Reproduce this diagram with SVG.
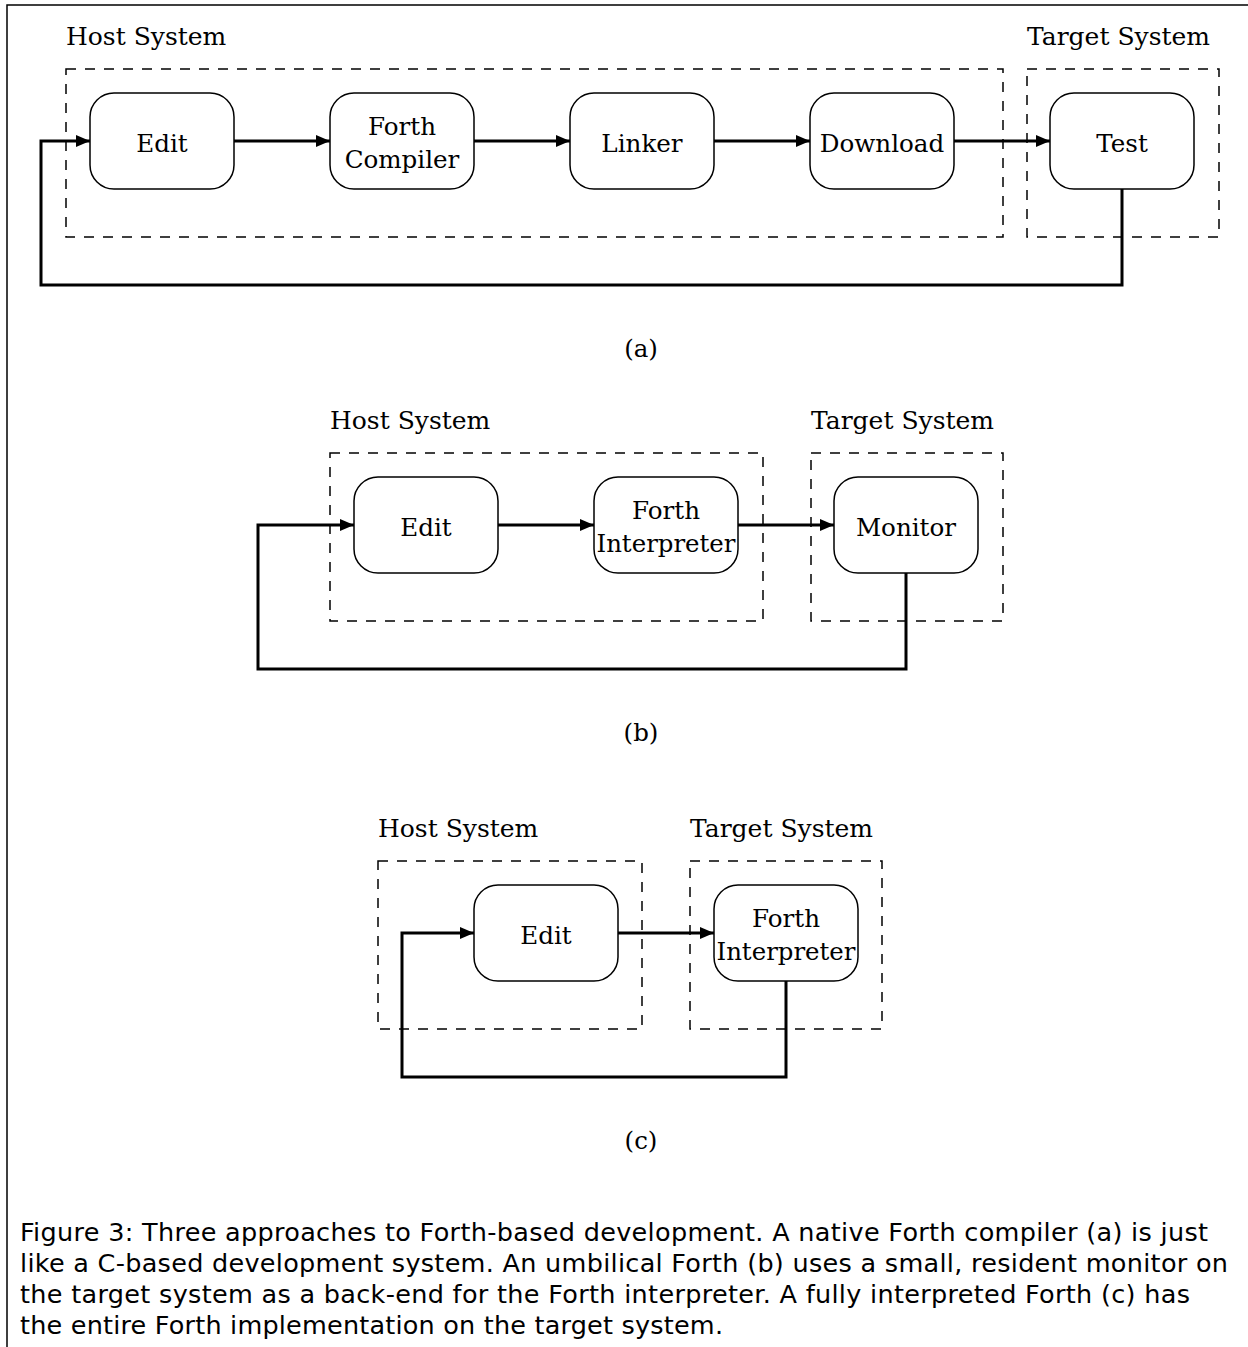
<svg xmlns="http://www.w3.org/2000/svg" width="1248" height="1347" viewBox="0 0 1248 1347">
<style>
.bg{fill:#ffffff}
.frame{fill:none;stroke:#000;stroke-width:1.5}
.box{fill:none;stroke:#000;stroke-width:1.5;stroke-dasharray:10 9}
.node rect{fill:#fff;stroke:#000;stroke-width:1.5}
.lbl{font-family:"DejaVu Serif","Liberation Serif",serif;font-size:25px;fill:#000}
.node text{font-family:"DejaVu Serif","Liberation Serif",serif;font-size:24.6px;fill:#000;text-anchor:middle}
.sub{font-family:"DejaVu Serif","Liberation Serif",serif;font-size:24.5px;fill:#000;text-anchor:middle}
.edge{fill:none;stroke:#000;stroke-width:3}
.cap{font-family:"DejaVu Sans","Noto Sans",sans-serif;font-size:25.5px;fill:#000}
</style>
<defs>
<marker id="ah" viewBox="0 0 14 12" refX="14" refY="6" markerWidth="14" markerHeight="12" markerUnits="userSpaceOnUse" orient="auto">
<path d="M0,0 L14,6 L0,12 Z" fill="#000"/>
</marker>
</defs>
<rect class="bg" x="0" y="0" width="1248" height="1347"/>
<path class="frame" d="M7,1347 V5 H1248"/>

<!-- Panel a -->
<g id="panel-a-frames">
<text class="lbl" x="66" y="45">Host System</text>
<text class="lbl" x="1027" y="45">Target System</text>
<rect class="box" x="66" y="69" width="937" height="168"/>
<rect class="box" x="1027" y="69" width="192" height="168"/>
</g>
<g id="connectors-a">
<path class="edge" d="M234,141 H330" marker-end="url(#ah)"/>
<path class="edge" d="M474,141 H570" marker-end="url(#ah)"/>
<path class="edge" d="M714,141 H810" marker-end="url(#ah)"/>
<path class="edge" d="M954,141 H1050" marker-end="url(#ah)"/>
<path class="edge" d="M1122,189 V285 H41 V141 H90" marker-end="url(#ah)"/>
</g>
<g id="a-edit" class="node"><rect x="90" y="93" width="144" height="96" rx="24"/><text x="162" y="152">Edit</text></g>
<g id="a-compiler" class="node"><rect x="330" y="93" width="144" height="96" rx="24"/><text x="402" y="135">Forth</text><text x="402" y="168">Compiler</text></g>
<g id="a-linker" class="node"><rect x="570" y="93" width="144" height="96" rx="24"/><text x="642" y="152">Linker</text></g>
<g id="a-download" class="node"><rect x="810" y="93" width="144" height="96" rx="24"/><text x="882" y="152">Download</text></g>
<g id="a-test" class="node"><rect x="1050" y="93" width="144" height="96" rx="24"/><text x="1122" y="152">Test</text></g>
<text class="sub" x="641" y="357">(a)</text>

<!-- Panel b -->
<g id="panel-b-frames">
<text class="lbl" x="330" y="429">Host System</text>
<text class="lbl" x="811" y="429">Target System</text>
<rect class="box" x="330" y="453" width="433" height="168"/>
<rect class="box" x="811" y="453" width="192" height="168"/>
</g>
<g id="connectors-b">
<path class="edge" d="M498,525 H594" marker-end="url(#ah)"/>
<path class="edge" d="M738,525 H834" marker-end="url(#ah)"/>
<path class="edge" d="M906,573 V669 H258 V525 H354" marker-end="url(#ah)"/>
</g>
<g id="b-edit" class="node"><rect x="354" y="477" width="144" height="96" rx="24"/><text x="426" y="536">Edit</text></g>
<g id="b-interp" class="node"><rect x="594" y="477" width="144" height="96" rx="24"/><text x="666" y="519">Forth</text><text x="666" y="552" textLength="139" lengthAdjust="spacingAndGlyphs">Interpreter</text></g>
<g id="b-monitor" class="node"><rect x="834" y="477" width="144" height="96" rx="24"/><text x="906" y="536">Monitor</text></g>
<text class="sub" x="641" y="741">(b)</text>

<!-- Panel c -->
<g id="panel-c-frames">
<text class="lbl" x="378" y="837">Host System</text>
<text class="lbl" x="690" y="837">Target System</text>
<rect class="box" x="378" y="861" width="264" height="168"/>
<rect class="box" x="690" y="861" width="192" height="168"/>
</g>
<g id="connectors-c">
<path class="edge" d="M618,933 H714" marker-end="url(#ah)"/>
<path class="edge" d="M786,981 V1077 H402 V933 H474" marker-end="url(#ah)"/>
</g>
<g id="c-edit" class="node"><rect x="474" y="885" width="144" height="96" rx="24"/><text x="546" y="944">Edit</text></g>
<g id="c-interp" class="node"><rect x="714" y="885" width="144" height="96" rx="24"/><text x="786" y="927">Forth</text><text x="786" y="960" textLength="139" lengthAdjust="spacingAndGlyphs">Interpreter</text></g>
<text class="sub" x="641" y="1149">(c)</text>

<g id="caption">
<text class="cap" x="20" y="1241" textLength="1188" lengthAdjust="spacing">Figure 3: Three approaches to Forth-based development. A native Forth compiler (a) is just</text>
<text class="cap" x="20" y="1272" textLength="1208" lengthAdjust="spacing">like a C-based development system. An umbilical Forth (b) uses a small, resident monitor on</text>
<text class="cap" x="20" y="1303" textLength="1170" lengthAdjust="spacing">the target system as a back-end for the Forth interpreter. A fully interpreted Forth (c) has</text>
<text class="cap" x="20" y="1334" textLength="703" lengthAdjust="spacing">the entire Forth implementation on the target system.</text>
</g>
</svg>
